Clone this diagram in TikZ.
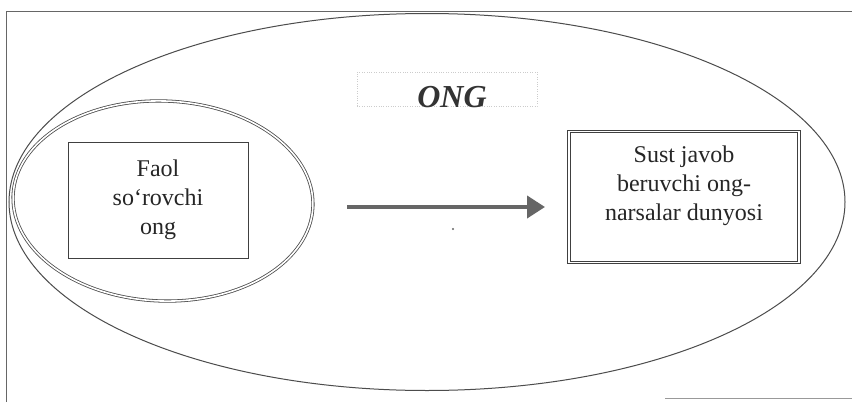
\documentclass[tikz,border=0pt]{standalone}
\usepackage{fontspec}
\setmainfont{Liberation Serif}
\usetikzlibrary{arrows.meta,shapes.geometric}
\begin{document}
\begin{tikzpicture}[x=1pt,y=-1pt,
  txt/.style={font=\fontsize{24}{29}\selectfont, align=center, text=black!85},
  frameline/.style={draw=black!60, line width=0.8pt},
  outerell/.style={draw=black!70, line width=1pt},
  innerell/.style={draw=black!70, double=white, double distance=1.6pt, line width=0.8pt},
  leftbox/.style={draw=black!75, line width=0.7pt},
  rightbox/.style={draw=black!75, double=white, double distance=1.8pt, line width=1pt},
  arr/.style={draw=black!60, line width=4pt, -{Triangle[length=18pt,width=22pt]}}]
\useasboundingbox (0,0) rectangle (852,402);
\fill[white] (0,0) rectangle (852,402);
% page frame
\coordinate (f1) at (6,402);
\coordinate (f2) at (6,11);
\coordinate (f3) at (852,11);
\coordinate (f4) at (665,398);
\coordinate (f5) at (852,398);
\draw[frameline] (f1) -- (f2) -- (f3);
\draw[frameline, draw=black!40] (f4) -- (f5);
% big ellipse
\node[outerell, ellipse, minimum width=836pt, minimum height=377pt, inner sep=0pt] (big) at (427,202) {};
% ONG title
\node[draw=black!20, dotted, minimum width=180pt, minimum height=34pt] (titlebox) at (447,89) {};
\node[font=\fontsize{32}{36}\selectfont\bfseries\itshape, text=black!80] (title) at (452,97) {ONG};
% inner ellipse
\node[innerell, ellipse, minimum width=300pt, minimum height=200pt, inner sep=0pt, rotate=-2] (inner) at (163,201) {};
% left box
\node[leftbox, minimum width=180pt, minimum height=116pt] (lb) at (158,200) {};
\node[txt] (lt) at (158,200) {Faol\\so‘rovchi\\ong};
% right box
\node[rightbox, minimum width=230pt, minimum height=131pt] (rb) at (684,197) {};
\node[txt] (rt) at (684,186) {Sust javob\\beruvchi ong-\\narsalar dunyosi};
% arrow
\coordinate (a1) at (347,207);
\coordinate (a2) at (545,207);
\draw[arr] (a1) -- (a2);
\fill[black!60] (453,229) circle (1.2pt);
\end{tikzpicture}
\end{document}
